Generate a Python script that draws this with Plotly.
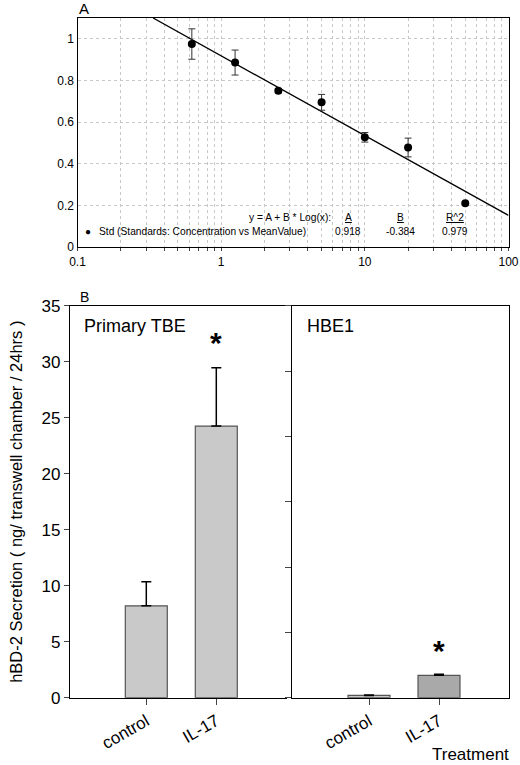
import plotly.graph_objects as go

# ---- panel A: standard curve ----
conc = [0.625, 1.25, 2.5, 5, 10, 20, 50]
mean_od = [0.975, 0.886, 0.750, 0.695, 0.527, 0.478, 0.210]
od_err = [0.073, 0.060, 0.010, 0.038, 0.023, 0.045, 0.008]
fit_x = [0.336, 100]
fit_y = [1.10, 0.152]
fit_params = ["A", "B", "R^2"]
fit_values = ["0.918", "-0.384", "0.979"]

# ---- panel B: hBD-2 secretion ----
treatments = ["control", "IL-17"]
tbe_mean = [8.2, 24.25]
tbe_err = [2.15, 5.2]
hbe1_mean = [0.2, 2.0]
hbe1_err = [0.05, 0.1]

W, H = 520, 765
FONT = "Liberation Sans, Arial, sans-serif"


def px(x):
    return x / W


def py(y):
    return 1 - y / H


fig = go.Figure()

fig.add_trace(go.Scatter(
    x=fit_x, y=fit_y, mode="lines", line=dict(color="black", width=1.3),
    xaxis="x", yaxis="y", showlegend=False, hoverinfo="skip",
))
fig.add_trace(go.Scatter(
    x=conc, y=mean_od, mode="markers",
    marker=dict(color="black", size=8),
    error_y=dict(type="data", array=od_err, color="#333", thickness=1, width=3.5),
    xaxis="x", yaxis="y", showlegend=False, name="Std",
))

bar_line = dict(color="#555", width=1.2)
fig.add_trace(go.Bar(
    x=treatments, y=tbe_mean, width=0.6,
    marker=dict(color="#c9c9c9", line=bar_line),
    error_y=dict(type="data", array=tbe_err, arrayminus=[0, 0], symmetric=False,
                 color="black", thickness=1.5, width=5),
    xaxis="x2", yaxis="y2", showlegend=False,
))
fig.add_trace(go.Bar(
    x=treatments, y=hbe1_mean, width=0.6,
    marker=dict(color=["#c9c9c9", "#a9a9a9"], line=bar_line),
    error_y=dict(type="data", array=hbe1_err, arrayminus=[0, 0], symmetric=False,
                 color="black", thickness=1.5, width=5),
    xaxis="x3", yaxis="y3", showlegend=False,
))

# minor decade gridlines for log axis
log_ticks = [m * 10 ** e for e in (-1, 0, 1) for m in range(1, 10)] + [100]
log_text = [("%g" % v) if v in (0.1, 1, 10, 100) else "" for v in log_ticks]

axis_common = dict(showline=True, linecolor="black", linewidth=1.2, automargin=False,
                   tickfont=dict(family=FONT, color="black"), zeroline=False)

fig.update_layout(
    width=W, height=H,
    margin=dict(l=0, r=0, t=0, b=0),
    plot_bgcolor="white", paper_bgcolor="white",
    font=dict(family=FONT, color="black"),
    bargap=0.4,
    xaxis=dict(**axis_common, type="log", range=[-1, 2],
               domain=[px(77.5), px(508.5)], anchor="y", mirror=True,
               tickvals=log_ticks, ticktext=log_text, ticks="outside", ticklen=3,
               showgrid=True, gridcolor="#c8c8c8", griddash="dot", gridwidth=1),
    yaxis=dict(**axis_common, range=[0, 1.1], domain=[py(247), py(18)],
               anchor="x", mirror=True, dtick=0.2, ticks="", ticklen=3,
               showgrid=True, gridcolor="#c8c8c8", griddash="dot", gridwidth=1),
    xaxis2=dict(**axis_common, type="category", range=[-1.09, 2.01],
                domain=[px(70), px(287)], anchor="y2", mirror=True,
                ticks="outside", ticklen=6, tickangle=-30, showgrid=False),
    yaxis2=dict(**axis_common, range=[0, 35], domain=[py(697.7), py(305.7)],
                anchor="x2", dtick=5, ticks="outside", ticklen=5, showgrid=False,
                title=dict(text="hBD-2 Secretion ( ng/ transwell chamber / 24hrs )",
                           font=dict(size=16.5), standoff=14)),
    xaxis3=dict(**axis_common, type="category", range=[-1.1, 2.0],
                domain=[px(292), px(509)], anchor="y3", mirror=True,
                ticks="outside", ticklen=6, tickangle=-30, showgrid=False),
    yaxis3=dict(**axis_common, range=[0, 35], domain=[py(697.7), py(305.7)],
                anchor="x3", mirror=True, tickvals=[35 * i / 6 for i in range(7)],
                showticklabels=False, ticks="outside", ticklen=6, showgrid=False),
)
fig.update_layout(
    xaxis_tickfont_size=12, yaxis_tickfont_size=12,
    xaxis2_tickfont_size=17, yaxis2_tickfont_size=17,
    xaxis3_tickfont_size=17,
)

ann = []
ann.append(dict(text="A", x=px(77), y=py(9), xanchor="left", yanchor="middle",
                font=dict(size=15)))
ann.append(dict(text="B", x=px(78), y=py(297), xanchor="left", yanchor="middle",
                font=dict(size=14)))
ann.append(dict(text="y = A + B * Log(x):", x=px(333), y=py(217), xanchor="right",
                yanchor="middle", font=dict(size=10.2)))
ann.append(dict(text="●", x=px(83), y=py(231), xanchor="left", yanchor="middle",
                font=dict(size=10)))
ann.append(dict(text="Std (Standards: Concentration vs MeanValue)", x=px(97), y=py(231),
                xanchor="left", yanchor="middle", font=dict(size=10.2)))
for cx, name, val in zip([348, 400, 455], fit_params, fit_values):
    ann.append(dict(text="<u>%s</u>" % name, x=px(cx), y=py(217), xanchor="center",
                    yanchor="middle", font=dict(size=10.2)))
    ann.append(dict(text=val, x=px(cx), y=py(231), xanchor="center",
                    yanchor="middle", font=dict(size=10.2)))
ann.append(dict(text="Primary TBE", x=px(82), y=py(326), xanchor="left",
                yanchor="middle", font=dict(size=18)))
ann.append(dict(text="HBE1", x=px(305), y=py(326), xanchor="left",
                yanchor="middle", font=dict(size=18)))
ann.append(dict(text="<b>*</b>", x=px(216), y=py(343), xanchor="center", yanchor="middle",
                font=dict(size=30)))
ann.append(dict(text="<b>*</b>", x=px(439), y=py(650), xanchor="center", yanchor="middle",
                font=dict(size=30)))
ann.append(dict(text="Treatment", x=px(511), y=py(754), xanchor="right",
                yanchor="middle", font=dict(size=17)))
for a in ann:
    a.update(xref="paper", yref="paper", showarrow=False)
    a["font"].setdefault("family", FONT)
    a["font"].setdefault("color", "black")
fig.update_layout(annotations=ann)

# drop the default 8px body margin so the figure sits at the window's corner
fig.write_html("out.html", config={"displayModeBar": False},
               post_script="document.body.style.margin='0';")
